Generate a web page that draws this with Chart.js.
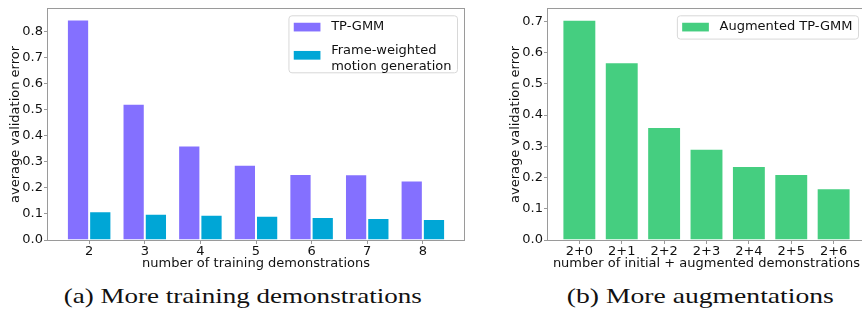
<!DOCTYPE html>
<html lang="en">
<head>
  <meta charset="UTF-8">
  <title>Validation error vs. demonstrations</title>
  <script src="https://cdn.jsdelivr.net/npm/chart.js"></script>
  <style>
    html, body { margin: 0; padding: 0; background: #fff; }
    #wrap { position: relative; width: 862px; height: 311px; overflow: hidden; background: #fff; }
    #wrap canvas { position: absolute; top: 0; }
    .cap {
      position: absolute; top: 281px; white-space: nowrap;
      font-family: "Liberation Serif", serif; font-size: 22px; line-height: 30px;
      color: #111; transform-origin: center center;
    }
  </style>
</head>
<body>
  <div id="wrap">
    <canvas id="trainChart" width="470" height="272" style="left:0"></canvas>
    <canvas id="augChart" width="370" height="272" style="left:500px"></canvas>
    <div class="cap" data-cx="242.5" data-w="358">(a) More training demonstrations</div>
    <div class="cap" data-cx="700" data-w="267">(b) More augmentations</div>
  </div>

  <script>
  // (a) more training demonstrations
  const trainCounts = [2, 3, 4, 5, 6, 7, 8];
  const tpgmmError = [0.845, 0.522, 0.362, 0.288, 0.253, 0.252, 0.228];
  const frameWeightedError = [0.110, 0.101, 0.097, 0.093, 0.088, 0.084, 0.080];
  const yTicksTrain = [0, 0.1, 0.2, 0.3, 0.4, 0.5, 0.6, 0.7, 0.8];

  // (b) more augmentations
  const augLabels = ['2+0', '2+1', '2+2', '2+3', '2+4', '2+5', '2+6'];
  const augmentedError = [0.705, 0.569, 0.362, 0.292, 0.237, 0.211, 0.166];
  const yTicksAug = [0, 0.1, 0.2, 0.3, 0.4, 0.5, 0.6, 0.7];

  const FONT = '"DejaVu Sans", sans-serif';
  const SPINE = '#9a9a9a';
  const TEXT = '#111';

  // box around the plot area, like matplotlib spines
  const framePlugin = {
    id: 'frame',
    afterDatasetsDraw(chart) {
      const { ctx, chartArea: a } = chart;
      ctx.save();
      ctx.strokeStyle = SPINE;
      ctx.lineWidth = 1;
      ctx.strokeRect(Math.round(a.left) - 0.5, Math.round(a.top) - 0.5,
        Math.round(a.right - a.left) + 1, Math.round(a.bottom - a.top) + 1);
      ctx.restore();
    }
  };

  // matplotlib-style legend box in the upper right corner
  const boxLegend = {
    id: 'boxLegend',
    afterDraw(chart, args, opts) {
      const items = opts.items || [];
      const { ctx, chartArea } = chart;
      ctx.save();
      ctx.font = '13px ' + FONT;
      const lineH = 15.7;
      const textW = Math.max(...items.flatMap(it => it.lines.map(l => ctx.measureText(l).width)));
      const w = 4.8 + 26.7 + 10.7 + textW + 6;
      const top = chartArea.top + 7;
      const left = chartArea.right - 6.5 - w;

      let y = top + 11.3;
      const rows = [];
      items.forEach((it, i) => {
        if (i > 0) y += 24;
        rows.push({ it, y });
        y += (it.lines.length - 1) * lineH;
      });
      const last = items[items.length - 1];
      const h = y - top + (last.lines.length > 1 ? 6 : 12);

      ctx.beginPath();
      ctx.roundRect(left, top, w, h, 3);
      ctx.fillStyle = 'rgba(255,255,255,0.8)';
      ctx.fill();
      ctx.strokeStyle = '#d8d8d8';
      ctx.lineWidth = 1;
      ctx.stroke();

      ctx.textBaseline = 'middle';
      ctx.textAlign = 'left';
      rows.forEach(({ it, y }) => {
        const sy = y + (it.lines.length - 1) * 4.2;
        ctx.fillStyle = it.color;
        ctx.fillRect(left + 4.8, sy - 4.35, 26.7, 8.7);
        ctx.fillStyle = TEXT;
        it.lines.forEach((l, k) => ctx.fillText(l, left + 4.8 + 26.7 + 10.7, y + k * lineH));
      });
      ctx.restore();
    }
  };

  const tickFont = { family: FONT, size: 13 };
  const titleFont = { family: FONT, size: 13 };

  function yAxis(ticks, max) {
    return {
      min: 0, max: max,
      afterFit: s => { s.width = 48; },
      afterBuildTicks: s => { s.ticks = ticks.map(v => ({ value: v })); },
      grid: { drawOnChartArea: false, drawTicks: true, tickLength: 4, color: SPINE },
      border: { display: false },
      ticks: { color: TEXT, font: tickFont, padding: 1, callback: v => v.toFixed(1) },
      title: { display: true, text: 'average validation error', color: TEXT, font: titleFont, padding: { top: 8, bottom: 0 } }
    };
  }

  function xAxis(positions, min, max, label, fmt) {
    return {
      type: 'linear', min: min, max: max, offset: false,
      afterFit: s => { s.height = 32; },
      afterBuildTicks: s => { s.ticks = positions.map(v => ({ value: v })); },
      grid: { drawOnChartArea: false, drawTicks: true, tickLength: 4, color: SPINE, offset: false },
      border: { display: false },
      ticks: { color: TEXT, font: tickFont, padding: 0, maxRotation: 0, autoSkip: false, callback: fmt },
      title: { display: true, text: label, color: TEXT, font: titleFont, padding: { top: 0, bottom: 1 } }
    };
  }

  const barEdge = 'rgba(255,255,255,0.45)';

  new Chart(document.getElementById('trainChart'), {
    type: 'bar',
    data: {
      labels: trainCounts,
      datasets: [
        { label: 'TP-GMM', data: tpgmmError, backgroundColor: '#8470ff', borderColor: barEdge, borderWidth: 1 },
        { label: 'Frame-weighted motion generation', data: frameWeightedError, backgroundColor: '#00a6d6', borderColor: barEdge, borderWidth: 1 }
      ]
    },
    options: {
      responsive: false, animation: false, devicePixelRatio: 1,
      categoryPercentage: 0.8, barPercentage: 1,
      layout: { padding: { top: 6, right: 6, left: 0, bottom: 0 } },
      plugins: {
        legend: { display: false }, tooltip: { enabled: false },
        boxLegend: { items: [
          { lines: ['TP-GMM'], color: '#8470ff' },
          { lines: ['Frame-weighted', 'motion generation'], color: '#00a6d6' }
        ] }
      },
      scales: {
        x: xAxis(trainCounts, 1.26, 8.74, 'number of training demonstrations', v => String(v)),
        y: yAxis(yTicksTrain, 0.886)
      }
    },
    plugins: [framePlugin, boxLegend]
  });

  const augPos = augLabels.map((_, i) => i);

  new Chart(document.getElementById('augChart'), {
    type: 'bar',
    data: {
      labels: augPos,
      datasets: [
        { label: 'Augmented TP-GMM', data: augmentedError, backgroundColor: '#45ce80', borderColor: barEdge, borderWidth: 1 }
      ]
    },
    options: {
      responsive: false, animation: false, devicePixelRatio: 1,
      categoryPercentage: 0.8, barPercentage: 1,
      layout: { padding: { top: 7, right: 5, left: 0, bottom: 0 } },
      plugins: {
        legend: { display: false }, tooltip: { enabled: false },
        boxLegend: { items: [ { lines: ['Augmented TP-GMM'], color: '#45ce80' } ] }
      },
      scales: {
        x: xAxis(augPos, -0.74, 6.74, 'number of initial + augmented demonstrations', v => augLabels[v] || ''),
        y: yAxis(yTicksAug, 0.74)
      }
    },
    plugins: [framePlugin, boxLegend]
  });

  // stretch the captions to the width of the Computer Modern originals
  document.querySelectorAll('.cap').forEach(el => {
    const w = el.getBoundingClientRect().width;
    const target = +el.dataset.w;
    el.style.left = (+el.dataset.cx - w / 2) + 'px';
    el.style.transform = 'scaleX(' + (target / w) + ')';
  });
  </script>
</body>
</html>
